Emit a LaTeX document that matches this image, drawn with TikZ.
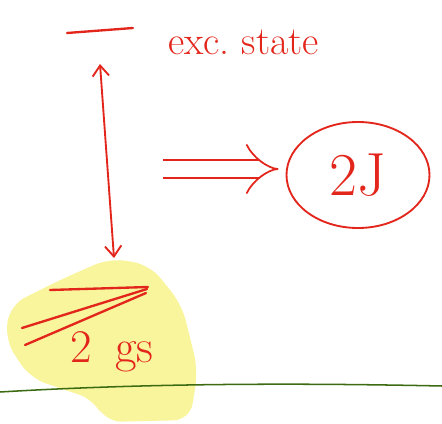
\documentclass[tikz,border=0pt]{standalone}
\usepackage{tikz}
\usetikzlibrary{arrows.meta,positioning,shapes.geometric}
\definecolor{ink}{HTML}{E3261C}
\definecolor{marker}{HTML}{F8F59C}
\definecolor{ground}{HTML}{3C6B12}
\tikzset{
  level/.style={ink,line width=2pt,line cap=round},
  sketchtext/.style={ink,inner sep=0pt,font=\fontsize{34}{38}\selectfont},
  barb/.style={ink,line width=1.6pt,{Straight Barb[length=9pt,width=14pt]}-{Straight Barb[length=9pt,width=14pt]}}
}

\begin{document}
\begin{tikzpicture}[x=0.03cm,y=-0.03cm]
  \useasboundingbox (0,0) rectangle (442,424);

  % highlighter under the ground state
  \fill[marker,rounded corners=14] (110,258) -- (150,265) -- (182,305) -- (198,370) -- (190,420)
    -- (105,422) -- (95,400) -- (30,378) -- (5,340) -- (10,305) -- (60,280) -- cycle;
  % surface
  \draw[ground,line width=1.3pt] (0,392) .. controls (150,383) and (300,383) .. (442,386);

  % excited state
  \draw[level] (67,33) -- (133,28);
  \node[sketchtext,anchor=base west] (excname) at (168,55) {exc.\ state};

  % ground state
  \draw[level] (50,290) -- (148,287);
  \draw[level] (22,328) -- (147,289);
  \draw[level] (25,345) -- (146,293);
  \node[sketchtext,anchor=base west,font=\fontsize{40}{44}\selectfont] (gsname) at (70,362) {2\hspace{0.5em}gs};

  \coordinate (exctop) at (100,64);
  \coordinate (gsbot) at (114,258);
  \draw[barb] (exctop) -- (gsbot);

  % degeneracy
  \node[draw=ink,line width=1.6pt,ellipse,minimum width=4.29cm,minimum height=3.18cm,
        text=ink,font=\fontsize{52}{56}\selectfont] (twoJ) at (358,175) {2J};
  \coordinate (impl) at (163,169);
  \draw[ink,line width=1.5pt,double,double distance=14pt,-{Implies},shorten >=6pt] (impl) -- (impl -| twoJ.west);
\end{tikzpicture}
\end{document}
